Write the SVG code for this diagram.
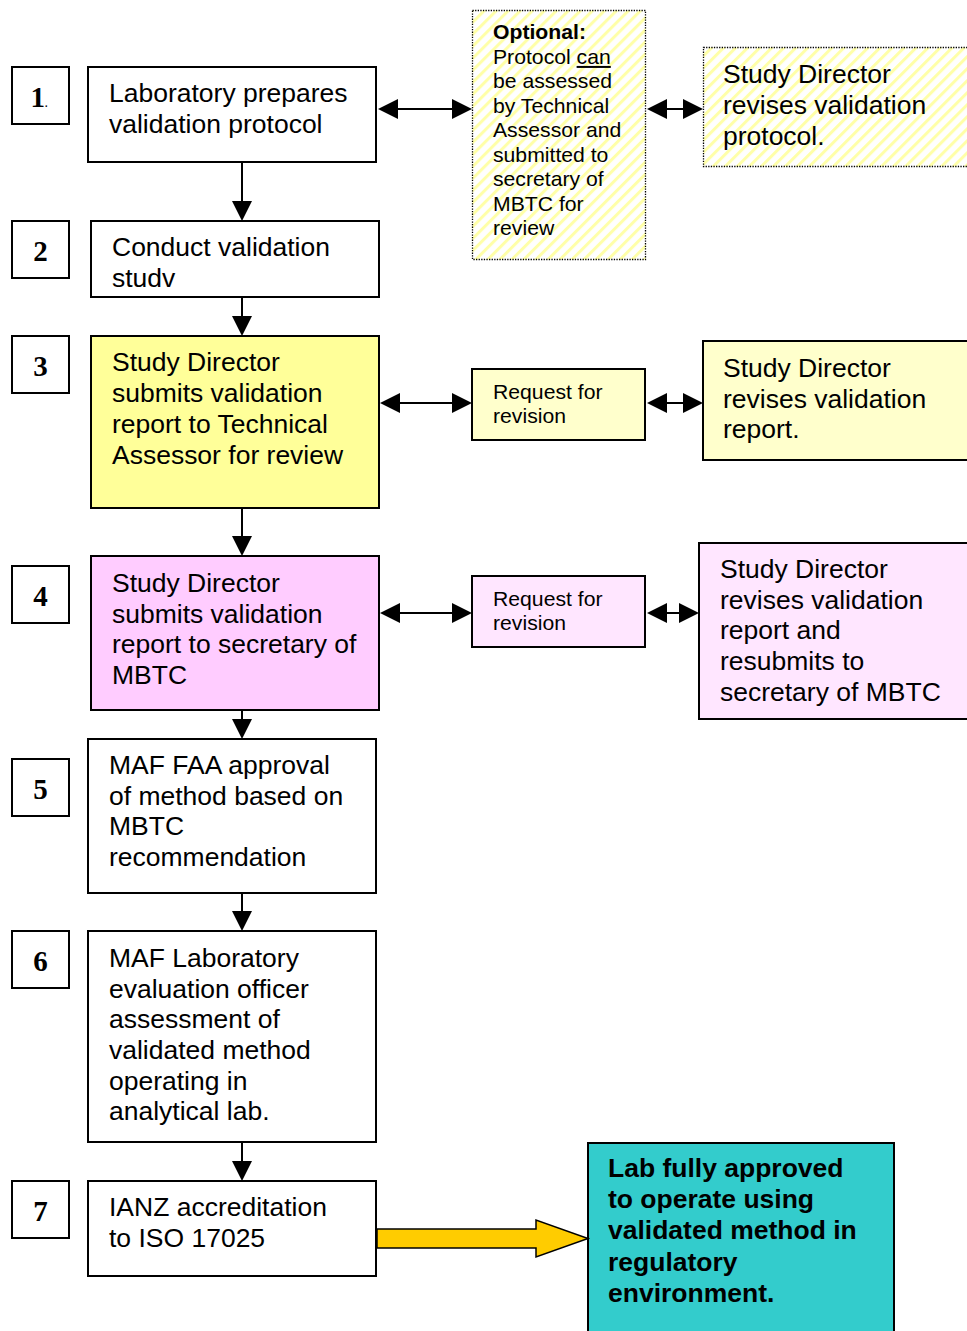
<svg xmlns="http://www.w3.org/2000/svg" width="967" height="1331" viewBox="0 0 967 1331">
<style>
  text { font-family: "Liberation Sans", Arial, sans-serif; fill: #000; }
  .t { font-size: 25px; transform-box: fill-box; transform-origin: 0 0; transform: scaleX(1.06); }
  .s { font-size: 20px; transform-box: fill-box; transform-origin: 0 0; transform: scaleX(1.06); }
  .b { font-weight: bold; }
  .num { font-family: "Liberation Serif", "Times New Roman", serif; font-weight: bold; font-size: 29px; text-anchor: middle; }
  .box { fill: #fff; stroke: #000; stroke-width: 2; }
  .dot { stroke: #000; stroke-width: 1.3; stroke-dasharray: 1.3 1.3; fill: url(#hatch); }
  .conn line { stroke: #000; stroke-width: 2; }
</style>
<defs>
  <pattern id="hatch" patternUnits="userSpaceOnUse" width="8.5" height="8.5" patternTransform="rotate(45)">
    <rect width="8.5" height="8.5" fill="#fff"/>
    <rect width="3" height="8.5" fill="#FFFFA8"/>
  </pattern>
  <marker id="ah" markerUnits="userSpaceOnUse" markerWidth="20" markerHeight="20" viewBox="0 0 20 20" refX="18" refY="10" orient="auto-start-reverse">
    <path d="M0,0 L20,10 L0,20 z" fill="#000"/>
  </marker>
</defs>
<rect width="967" height="1331" fill="#fff"/>

<g id="num1"><rect class="box" x="12" y="67" width="57" height="57"/><text class="num" x="39" y="106.5">1<tspan font-size="10">.</tspan></text></g>
<g id="num2"><rect class="box" x="12" y="221" width="57" height="57"/><text class="num" x="40.5" y="260.5">2</text></g>
<g id="num3"><rect class="box" x="12" y="336" width="57" height="57"/><text class="num" x="40.5" y="375.5">3</text></g>
<g id="num4"><rect class="box" x="12" y="566" width="57" height="57"/><text class="num" x="40.5" y="605.5">4</text></g>
<g id="num5"><rect class="box" x="12" y="759" width="57" height="57"/><text class="num" x="40.5" y="798.5">5</text></g>
<g id="num6"><rect class="box" x="12" y="931" width="57" height="57"/><text class="num" x="40.5" y="970.5">6</text></g>
<g id="num7"><rect class="box" x="12" y="1181" width="57" height="57"/><text class="num" x="40.5" y="1220.5">7</text></g>

<g id="step1"><rect class="box" x="88" y="67" width="288" height="95"/>
  <text class="t" x="109" y="102.5"><tspan x="109">Laboratory prepares</tspan><tspan x="109" dy="31">validation protocol</tspan></text></g>
<g id="step2"><rect class="box" x="91" y="221" width="288" height="76"/>
  <text class="t" x="112" y="256"><tspan x="112">Conduct validation</tspan><tspan x="112" dy="31">studv</tspan></text></g>
<g id="step3"><rect class="box" x="91" y="336" width="288" height="172" style="fill:#FFFF99"/>
  <text class="t" x="112" y="371.5"><tspan x="112">Study Director</tspan><tspan x="112" dy="30.7">submits validation</tspan><tspan x="112" dy="30.7">report to Technical</tspan><tspan x="112" dy="30.7">Assessor for review</tspan></text></g>
<g id="step4"><rect class="box" x="91" y="556" width="288" height="154" style="fill:#FFCCFF"/>
  <text class="t" x="112" y="592"><tspan x="112">Study Director</tspan><tspan x="112" dy="30.7">submits validation</tspan><tspan x="112" dy="30.7">report to secretary of</tspan><tspan x="112" dy="30.7">MBTC</tspan></text></g>
<g id="step5"><rect class="box" x="88" y="739" width="288" height="154"/>
  <text class="t" x="109" y="774"><tspan x="109">MAF FAA approval</tspan><tspan x="109" dy="30.7">of method based on</tspan><tspan x="109" dy="30.7">MBTC</tspan><tspan x="109" dy="30.7">recommendation</tspan></text></g>
<g id="step6"><rect class="box" x="88" y="931" width="288" height="211"/>
  <text class="t" x="109" y="967"><tspan x="109">MAF Laboratory</tspan><tspan x="109" dy="30.7">evaluation officer</tspan><tspan x="109" dy="30.7">assessment of</tspan><tspan x="109" dy="30.7">validated method</tspan><tspan x="109" dy="30.7">operating in</tspan><tspan x="109" dy="30.7">analytical lab.</tspan></text></g>
<g id="step7"><rect class="box" x="88" y="1181" width="288" height="95"/>
  <text class="t" x="109" y="1216"><tspan x="109">IANZ accreditation</tspan><tspan x="109" dy="31">to ISO 17025</tspan></text></g>

<g id="optional"><rect class="dot" x="472.5" y="10.5" width="173" height="249"/>
  <text class="s" x="493" y="39.5"><tspan x="493" class="b">Optional:</tspan><tspan x="493" dy="24.5">Protocol <tspan text-decoration="underline">can</tspan></tspan><tspan x="493" dy="24.5">be assessed</tspan><tspan x="493" dy="24.5">by Technical</tspan><tspan x="493" dy="24.5">Assessor and</tspan><tspan x="493" dy="24.5">submitted to</tspan><tspan x="493" dy="24.5">secretary of</tspan><tspan x="493" dy="24.5">MBTC for</tspan><tspan x="493" dy="24.5">review</tspan></text></g>
<g id="revise-protocol"><rect class="dot" x="703.5" y="47.5" width="275" height="119"/>
  <text class="t" x="723" y="83"><tspan x="723">Study Director</tspan><tspan x="723" dy="31">revises validation</tspan><tspan x="723" dy="31">protocol.</tspan></text></g>

<g id="request1"><rect class="box" x="472" y="369" width="173" height="71" style="fill:#FFFFCC"/>
  <text class="s" x="493" y="399"><tspan x="493">Request for</tspan><tspan x="493" dy="24">revision</tspan></text></g>
<g id="revise-report"><rect class="box" x="703" y="341" width="275" height="119" style="fill:#FFFFCC"/>
  <text class="t" x="723" y="377"><tspan x="723">Study Director</tspan><tspan x="723" dy="30.7">revises validation</tspan><tspan x="723" dy="30.7">report.</tspan></text></g>

<g id="request2"><rect class="box" x="472" y="576" width="173" height="71" style="fill:#FFE6FF"/>
  <text class="s" x="493" y="606"><tspan x="493">Request for</tspan><tspan x="493" dy="24">revision</tspan></text></g>
<g id="resubmit"><rect class="box" x="699" y="543" width="279" height="176" style="fill:#FFE6FF"/>
  <text class="t" x="720" y="578"><tspan x="720">Study Director</tspan><tspan x="720" dy="30.7">revises validation</tspan><tspan x="720" dy="30.7">report and</tspan><tspan x="720" dy="30.7">resubmits to</tspan><tspan x="720" dy="30.7">secretary of MBTC</tspan></text></g>

<g id="approved"><rect x="588" y="1143" width="306" height="200" style="fill:#33CCCC;stroke:#000;stroke-width:2"/>
  <text class="t b" x="608" y="1177"><tspan x="608">Lab fully approved</tspan><tspan x="608" dy="31.2">to operate using</tspan><tspan x="608" dy="31.2">validated method in</tspan><tspan x="608" dy="31.2">regulatory</tspan><tspan x="608" dy="31.2">environment.</tspan></text></g>

<g id="connectors" class="conn">
  <line x1="242" y1="162" x2="242" y2="219" marker-end="url(#ah)"/>
  <line x1="242" y1="297" x2="242" y2="334" marker-end="url(#ah)"/>
  <line x1="242" y1="508" x2="242" y2="554" marker-end="url(#ah)"/>
  <line x1="242" y1="710" x2="242" y2="737" marker-end="url(#ah)"/>
  <line x1="242" y1="893" x2="242" y2="929" marker-end="url(#ah)"/>
  <line x1="242" y1="1142" x2="242" y2="1179" marker-end="url(#ah)"/>

  <line x1="380" y1="109" x2="470" y2="109" marker-start="url(#ah)" marker-end="url(#ah)"/>
  <line x1="649" y1="109" x2="701" y2="109" marker-start="url(#ah)" marker-end="url(#ah)"/>
  <line x1="382" y1="403" x2="470" y2="403" marker-start="url(#ah)" marker-end="url(#ah)"/>
  <line x1="649" y1="403" x2="701" y2="403" marker-start="url(#ah)" marker-end="url(#ah)"/>
  <line x1="382" y1="613" x2="470" y2="613" marker-start="url(#ah)" marker-end="url(#ah)"/>
  <line x1="649" y1="613" x2="697" y2="613" marker-start="url(#ah)" marker-end="url(#ah)"/>

  <polygon points="377,1229 536,1229 536,1220 588,1238.5 536,1257 536,1248 377,1248" fill="#FFCC00" stroke="#000" stroke-width="1.5" stroke-linejoin="miter"/>
</g>
</svg>
